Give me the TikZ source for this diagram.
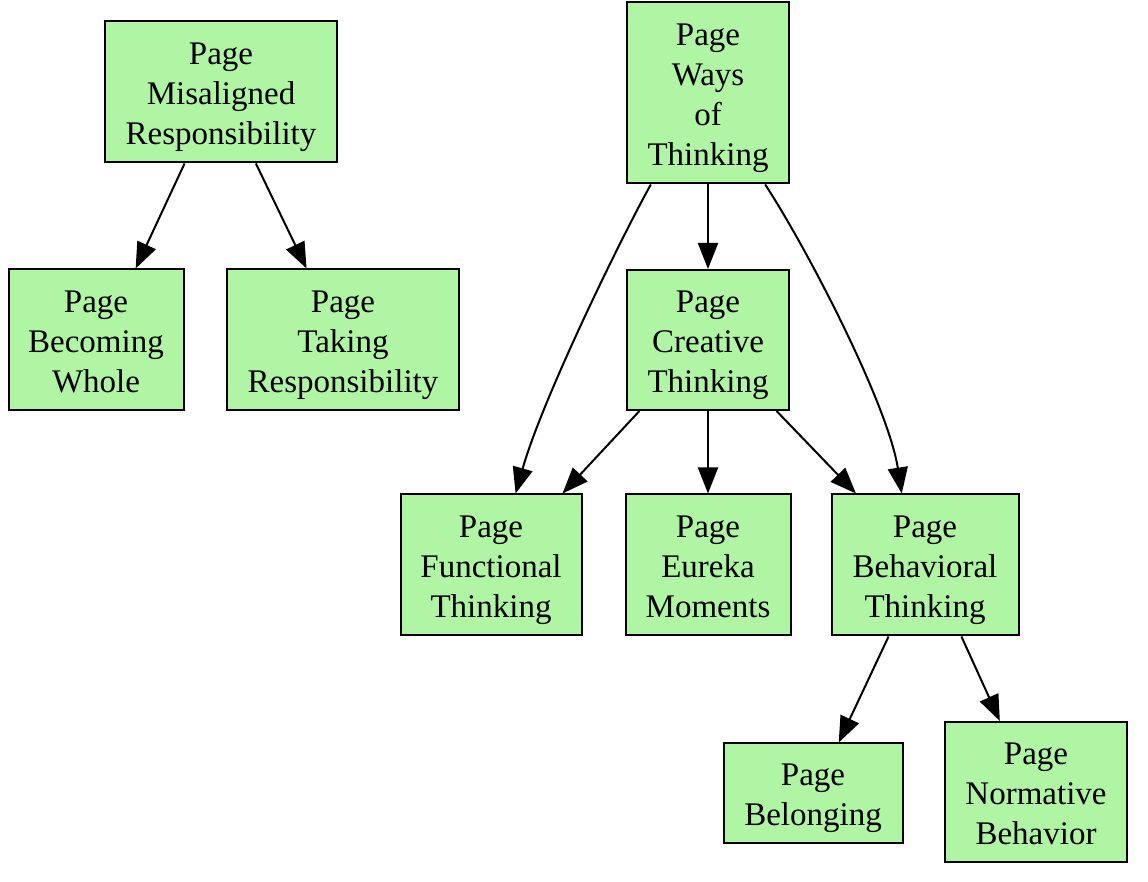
\documentclass[tikz,border=0pt]{standalone}
\usepackage{fontspec}
\setmainfont{Liberation Serif}
\usetikzlibrary{arrows.meta}
\definecolor{pagegreen}{RGB}{175,245,163}
\newcommand{\pagetop}{\rule{0pt}{17.3pt}Page}
\begin{document}
\begin{tikzpicture}[x=0.5pt,y=-0.5pt]
			\tikzstyle{page}=[draw=black,line width=1pt,fill=pagegreen,inner sep=0pt,align=center,font=\fontsize{16.5}{20}\selectfont,
				execute at end node={\rule[-4.5pt]{0pt}{4.5pt}}]
			\tikzstyle{link}=[black,line width=1pt,-{Triangle[length=13pt,width=10pt]}]
			\useasboundingbox (0,0) rectangle (1148,882);
			
			\node [page,minimum width=116pt,minimum height=70.5pt] (misaligned) at (221,92) {\pagetop\\Misaligned\\Responsibility};
			\node [page,minimum width=87.5pt,minimum height=70.5pt] (whole) at (96,340) {\pagetop\\Becoming\\Whole};
			\node [page,minimum width=116pt,minimum height=70.5pt] (taking) at (343,340) {\pagetop\\Taking\\Responsibility};
			\draw [link] (misaligned.243) -- (whole.61);
			\draw [link] (misaligned.296) -- (taking.117);
			
			\node [page,minimum width=81pt,minimum height=90.5pt] (ways) at (708,93) {\pagetop\\Ways\\of\\Thinking};
			\node [page,minimum width=81pt,minimum height=70pt] (creative) at (708,340) {\pagetop\\Creative\\Thinking};
			\node [page,minimum width=90.5pt,minimum height=70.5pt] (functional) at (491,565) {\pagetop\\Functional\\Thinking};
			\node [page,minimum width=82.5pt,minimum height=70.5pt] (eureka) at (708,565) {\pagetop\\Eureka\\Moments};
			\node [page,minimum width=93.5pt,minimum height=70.5pt] (behavioral) at (925,565) {\pagetop\\Behavioral\\Thinking};
			\draw [link] (ways.south) -- (creative.north);
			\draw [link] (ways.238) .. controls (620,240) and (542,400) .. (functional.71);
			\draw [link] (ways.302) .. controls (808,250) and (888,405) .. (behavioral.108);
			\draw [link] (creative.226) -- (functional.45);
			\draw [link] (creative.south) -- (eureka.north);
			\draw [link] (creative.314) -- (behavioral.134);
			
			\node [page,minimum width=89.5pt,minimum height=49.5pt] (belonging) at (813,793) {\pagetop\\Belonging};
			\node [page,minimum width=91pt,minimum height=70pt] (normative) at (1036,792) {\pagetop\\Normative\\Behavior};
			\draw [link] (behavioral.243) -- (belonging.63);
			\draw [link] (behavioral.297) -- (normative.117);
\end{tikzpicture}
\end{document}
